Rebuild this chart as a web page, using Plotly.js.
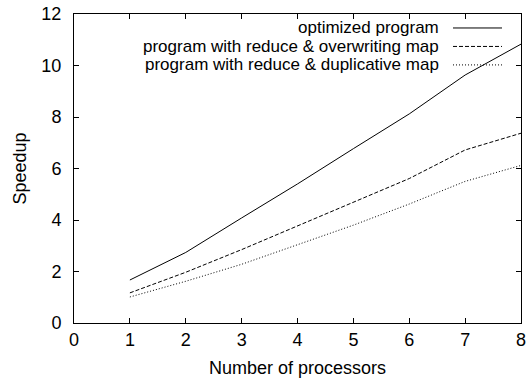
<!DOCTYPE html>
<html>
<head>
<meta charset="utf-8">
<script src="https://cdn.plot.ly/plotly-3.0.1.min.js"></script>
<style>html,body{margin:0;padding:0;background:#fff;}#chart{width:527px;height:380px;}</style>
</head>
<body>
<div id="chart"></div>
<script>
const processors = [1, 2, 3, 4, 5, 6, 7, 8];
const optimized = [1.67, 2.74, 4.08, 5.40, 6.77, 8.12, 9.63, 10.83];
const overwriting = [1.17, 1.97, 2.85, 3.77, 4.71, 5.61, 6.72, 7.37];
const duplicative = [1.01, 1.62, 2.28, 3.05, 3.80, 4.62, 5.50, 6.12];
const seriesNames = [
  "optimized program",
  "program with reduce & overwriting map",
  "program with reduce & duplicative map"
];
const xTicks = [0, 1, 2, 3, 4, 5, 6, 7, 8];
const yTicks = [0, 2, 4, 6, 8, 10, 12];

const dashes = ["solid", "4px,2px", "1px,2px"];
const seriesData = [optimized, overwriting, duplicative];

const traces = seriesData.map((ys, i) => ({
  x: processors, y: ys, type: "scatter", mode: "lines",
  name: seriesNames[i],
  line: {color: "#000", width: 1, dash: dashes[i]},
  showlegend: false, hoverinfo: "skip"
}));

const font = {family: "Liberation Sans, Arial, sans-serif", size: 18, color: "#000"};
const legendFont = {family: "Liberation Sans, Arial, sans-serif", size: 17, color: "#000"};
const legendY = [28, 46.5, 65];
const H = 380, T = 14, B = 56.5;
const plotH = H - T - B;
const annotations = [];
const shapes = [];
seriesNames.forEach((n, i) => {
  const yp = 1 - (legendY[i] - T) / plotH;
  annotations.push({
    text: n, xref: "paper", yref: "paper", x: (440 - 74) / 447, y: yp,
    xanchor: "right", yanchor: "middle", showarrow: false, font: legendFont,
    borderpad: 0
  });
  shapes.push({
    type: "line", xref: "paper", yref: "paper",
    x0: (453 - 74) / 447, x1: (502 - 74) / 447, y0: yp, y1: yp,
    line: {color: "#000", width: 1, dash: dashes[i]}
  });
});

const axisCommon = {
  showgrid: false, zeroline: false, showline: true, mirror: "ticks",
  linecolor: "#000", linewidth: 1, ticks: "inside", ticklen: 5,
  tickcolor: "#000", tickwidth: 1, tickfont: font
};

const layout = {
  width: 527, height: 380,
  margin: {l: 74, r: 6, t: T, b: B},
  paper_bgcolor: "#fff", plot_bgcolor: "#fff",
  font: font,
  xaxis: Object.assign({}, axisCommon, {
    range: [0, 8], tickvals: xTicks, ticktext: xTicks.map(String),
    ticklabelstandoff: 0,
    title: {text: "Number of processors", font: font, standoff: 12}
  }),
  yaxis: Object.assign({}, axisCommon, {
    range: [0, 12], tickvals: yTicks, ticktext: yTicks.map(String),
    ticklabelstandoff: 8,
    title: {text: "Speedup", font: font, standoff: 10}
  }),
  annotations: annotations,
  shapes: shapes,
  showlegend: false
};

Plotly.newPlot("chart", traces, layout, {displayModeBar: false, staticPlot: true});
</script>
</body>
</html>
